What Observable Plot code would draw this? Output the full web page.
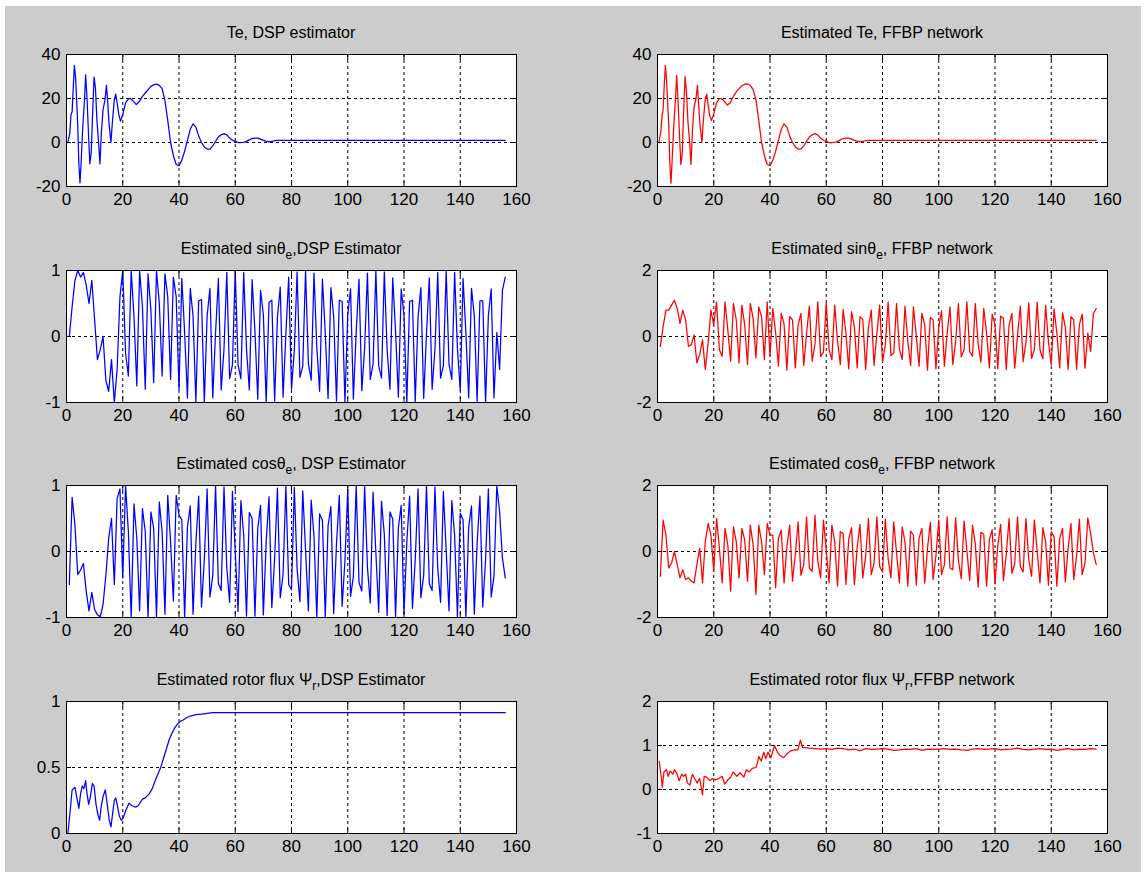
<!DOCTYPE html>
<html><head><meta charset="utf-8">
<script src="https://cdn.jsdelivr.net/npm/d3@7"></script>
<script src="https://cdn.jsdelivr.net/npm/@observablehq/plot@0.6"></script>
<style>
body{margin:0;background:#fff;}
#fig{position:relative;width:1146px;height:877px;background:#fff;overflow:hidden;font-family:"Liberation Sans",Arial,Helvetica,sans-serif;}
#bg{position:absolute;left:5px;top:6px;width:1136px;height:866px;background:#cccccc;}
.panel{position:absolute;}
.title{position:absolute;font-size:16px;line-height:20px;color:#000;white-space:nowrap;transform:translateX(-50%);}
.title sub{font-size:12px;vertical-align:-5px;line-height:0;}
</style></head>
<body><div id="fig"><div id="bg"></div></div>
<script>
// ---------- data ----------
const xTicks = [0,20,40,60,80,100,120,140,160];
const xGrid = [20,40,60,80,100,120,140];
const sampleT = d3.range(1, 157); // sample index 1..156

// Te, DSP estimator
const teX = [0.5,1.2,1.6,2,2.4,2.8,3.2,3.6,4,4.4,4.8,5.2,5.8,6.4,6.8,7.3,7.8,8.3,8.8,9.2,9.8,10.3,10.8,11.4,11.9,12.4,13,13.7,14.2,14.6,15.1,15.8,16.3,17,17.5,18,18.6,19.2,20,21,22,22.7,23.6,24.8,25.8,27,28,29,30,31,32,33,34,35,36,37,38,39,40,41,42,43,44,45,46,47,48,49,50,51,52,53,54,55,56,57,58,59,60,61,62,63,64,65,66,67,68,69,70,71,72,73,74,75,80,156];
const teDsp = [0,4.5,12.7,14,25,35,30,19.5,7.5,-10,-18.4,-9,7.5,19.5,30.7,20,4.5,-9.7,-4.5,10.5,29.7,24.7,10.5,0,-9.7,4.5,15,19.5,26,19.5,9,0,9,19.5,22,18,12.7,9.7,12.7,18,19.8,20,19,17.2,18.5,21,22.5,24,25.5,26.2,26.5,26,24.5,19,10,0,-6,-10,-10.5,-8,-4,1,6,8.5,7,3,0,-2,-3,-3,-1.5,0.5,2.5,3.5,4,3.5,2,1,0.5,0,0,0.1,0.5,1.2,1.8,2,2,1.5,1,0.6,0.3,0.5,0.8,1,1,1];
const teFfbp = [0,5,12,15,26,35,29,18,8,-10,-18.5,-8,8,20,30.5,19,4,-10,-5,11,30,23,10,0.5,-10,5,16,20,26,18,8,0,10,20,22,17,12,10,13,18,20,20,19,17,18,21,23,24.5,25.8,26.5,26.6,26,24,19.5,10,0,-6,-10,-10.5,-8,-4,1,6,8.5,7,3,0,-2,-3,-3,-1.5,0.5,2.5,3.5,4,3.5,2,1,0.5,0,0,0.1,0.5,1.2,1.8,2,2,1.5,1,0.6,0.3,0.5,0.8,1,1,1];

// sin theta_e
const sinDsp = [0.0,0.45,0.85,1.0,0.9,0.97,0.78,0.5,0.85,0.25,-0.35,-0.2,0.0,-0.67,-0.83,-0.35,-1.0,-0.5,
 0.6,1.0,-0.25,-0.6,1.0,0.3,-0.75,1.0,0.45,-0.8,0.95,0.4,-0.7,1.0,0.5,-0.6,0.95,0.6,-0.65,0.9,0.6,-0.81,
 0.88,0.06,-0.93,0.73,0.31,-0.99,0.54,0.56,-1.0,0.31,0.73,-0.93,0.06,0.88,-0.81,-0.19,0.97,-0.64,-0.43,1.0,-0.43,-0.64,0.97,-0.19,-0.81,
 0.86,0.08,-0.95,0.7,0.33,-1.0,0.52,0.55,-0.98,0.29,0.75,-0.92,0.04,0.9,-0.8,-0.21,0.98,-0.62,-0.45,1.0,-0.41,-0.66,0.96,-0.17,-0.83,
 0.87,0.05,-0.94,0.74,0.3,-0.98,0.55,0.53,-1.0,0.33,0.72,-0.95,0.07,0.87,-0.82,-0.18,0.96,-0.65,-0.42,1.0,-0.44,-0.63,0.98,-0.2,-0.8,
 0.89,0.07,-0.92,0.72,0.32,-1.0,0.53,0.55,-0.99,0.3,0.74,-0.94,0.05,0.89,-0.8,-0.2,0.97,-0.63,-0.44,1.0,-0.42,-0.65,0.97,-0.18,-0.82,
 0.88,0.06,-0.93,0.73,0.31,-0.99,0.54,0.54,-1.0,0.32,0.72,-0.93,0.06,-0.5,0.7,0.9];
const sinFfbp = [-0.3,0.3,0.8,0.8,0.95,1.1,0.85,0.4,0.8,0.5,-0.3,-0.25,0.05,-0.8,-0.55,-0.1,-1.0,-0.2,
 0.8,0.35,1.05,-0.4,-0.6,1.05,0.2,-0.75,1.0,0.5,-0.8,0.95,0.35,-0.85,1.0,0.55,-0.65,0.9,0.6,-0.7,1.05,-0.6,
 0.85,0.12,-0.9,0.7,0.38,-1.02,0.6,0.5,-0.95,0.35,0.7,-0.88,0.1,0.92,-0.75,-0.22,1.05,-0.6,-0.48,1.02,-0.4,-0.7,0.95,-0.12,-0.85,
 0.82,0.1,-0.98,0.75,0.3,-0.95,0.6,0.52,-1.0,0.28,0.8,-0.88,0.08,0.95,-0.78,-0.25,1.05,-0.58,-0.5,1.0,-0.38,-0.7,0.92,-0.15,-0.88,
 0.9,0.02,-0.9,0.7,0.35,-1.02,0.58,0.5,-0.98,0.3,0.78,-0.9,0.1,0.9,-0.85,-0.15,1.0,-0.62,-0.4,1.05,-0.45,-0.6,1.0,-0.22,-0.78,
 0.85,0.1,-0.95,0.68,0.36,-0.98,0.62,0.55,-1.0,0.34,0.7,-0.96,0.02,0.92,-0.76,-0.18,1.02,-0.66,-0.4,1.04,-0.4,-0.68,0.94,-0.16,-0.86,
 0.84,0.1,-0.95,0.72,0.28,-1.0,0.6,0.5,-1.0,0.36,0.68,-0.96,0.1,-0.45,0.7,0.85];

// cos theta_e
const cosDsp = [-0.5,0.82,0.4,-0.35,-0.28,-0.18,-0.6,-0.9,-0.62,-0.88,-0.96,-0.99,-0.8,-0.36,0.2,0.5,-0.5,0.8,
 0.95,-0.4,1.0,0.3,-1.0,0.72,0.2,-0.9,0.65,0.3,-1.0,0.6,0.35,-1.0,0.75,0.3,-0.95,0.85,0.15,-0.75,0.85,0.55,
 0.48,-1.0,0.37,0.69,-0.95,0.13,0.84,-0.84,-0.13,0.95,-0.69,-0.37,1.0,-0.48,-0.59,0.98,-0.25,-0.77,0.91,0,-0.91,0.77,0.25,-0.98,0.59,
 0.5,-0.98,0.35,0.7,-0.96,0.15,0.83,-0.85,-0.11,0.96,-0.7,-0.35,1.0,-0.5,-0.58,0.97,-0.27,-0.76,0.92,0.02,-0.9,0.78,0.23,-1.0,0.57,
 0.47,-1.0,0.39,0.68,-0.94,0.12,0.85,-0.83,-0.14,0.94,-0.68,-0.38,1.0,-0.47,-0.6,0.99,-0.24,-0.78,0.9,-0.02,-0.92,0.76,0.26,-0.97,0.6,
 0.49,-0.99,0.36,0.7,-0.95,0.14,0.84,-0.86,-0.12,0.95,-0.7,-0.36,1.0,-0.49,-0.59,0.98,-0.26,-0.77,0.91,0.01,-0.9,0.77,0.24,-0.99,0.58,
 0.48,-1.0,0.37,0.69,-0.95,0.13,0.84,-0.84,-0.13,0.95,-0.69,-0.37,1.0,0.6,-0.1,-0.4];
const cosFfbp = [-0.75,0.95,0.5,-0.5,-0.35,0.0,-0.4,-0.8,-0.55,-0.85,-0.8,-0.9,-0.95,-0.4,0.1,-0.95,0.3,0.85,0.5,-0.6,
 1.0,0.1,-0.95,0.7,0.2,-1.2,0.75,0.3,-0.8,0.7,0.35,-0.9,0.8,0.2,-1.3,0.8,0.3,-0.7,0.85,0.5,
 0.5,-1.1,0.4,0.65,-0.95,0.15,0.8,-0.9,-0.1,0.9,-0.72,-0.4,1.05,-0.5,-0.6,1.1,-0.3,-0.8,0.95,0.05,-0.95,0.8,0.3,-1.05,0.6,
 0.55,-1.0,0.38,0.72,-1.0,0.12,0.82,-0.8,-0.15,1.0,-0.7,-0.35,1.05,-0.45,-0.62,0.98,-0.22,-0.8,0.9,-0.05,-0.95,0.75,0.28,-1.05,0.62,
 0.5,-1.02,0.4,0.7,-0.96,0.1,0.88,-0.85,-0.12,0.95,-0.7,-0.4,1.05,-0.5,-0.55,1.02,-0.28,-0.82,0.92,0.02,-0.88,0.8,0.22,-1.08,0.58,
 0.52,-1.05,0.35,0.66,-0.98,0.18,0.82,-0.88,-0.1,1.0,-0.66,-0.38,1.05,-0.45,-0.62,1.0,-0.25,-0.75,0.95,0.0,-0.95,0.72,0.3,-1.02,0.6,
 0.45,-1.05,0.4,0.7,-0.92,0.1,0.85,-0.85,-0.15,0.98,-0.7,-0.35,1.02,0.55,-0.05,-0.4];

// rotor flux
const fluxDspX = [0.5,1.2,2,2.5,3,3.6,4.4,5,5.6,6.2,6.8,7.3,7.9,8.5,9.2,9.8,10.5,11.2,11.8,12.3,13,13.8,14.5,15.2,15.8,16.4,17,17.5,18.2,18.8,19.5,20.2,21,22.2,23.3,24.6,25.5,27,28,29.4,30.5,31.5,32.5,33.5,34.5,35.5,36.5,37.5,38.5,39.5,40.5,41.5,42.5,44,46,48,50,52,156];
const fluxDsp = [0,0.15,0.33,0.34,0.35,0.28,0.19,0.3,0.36,0.34,0.4,0.3,0.22,0.28,0.38,0.36,0.22,0.14,0.1,0.2,0.28,0.33,0.22,0.1,0.05,0.15,0.25,0.27,0.2,0.13,0.1,0.12,0.17,0.23,0.21,0.2,0.21,0.26,0.27,0.3,0.34,0.4,0.45,0.5,0.57,0.64,0.71,0.76,0.8,0.83,0.85,0.86,0.875,0.89,0.9,0.905,0.91,0.915,0.915];
const fluxFfbpX = [0.6,1.3,1.7,2.3,3.2,3.8,4.5,5.5,6,6.8,7.7,8.6,9.3,10,10.6,11.5,12.4,13.2,14.1,15,16,16.6,17.5,18.6,19.6,20.5,21.8,23,23.9,25,26,26.9,28.2,29.4,30.7,31.6,32.6,33.7,35,35.5,36,36.9,37.8,38.5,39.3,40.3,41.6,42.6,43.5,44.8,46.1,47.4,48.7,49.9,50.8,51.6,52.5,
 54,56,58,60,62,64,66,68,70,72,74,76,78,80,82,84,86,88,90,92,94,96,98,100,102,104,106,108,110,112,114,116,118,120,122,124,126,128,130,132,134,136,138,140,142,144,146,148,150,152,154,156];
const fluxFfbp = [0.64,0.3,0.05,0.4,0.45,0.3,0.42,0.35,0.45,0.38,0.2,0.35,0.3,0.35,0.15,0.1,0.35,0.25,0.15,0.25,-0.12,0.3,0.28,0.2,0.25,0.22,0.25,0.3,0.12,0.22,0.28,0.4,0.3,0.38,0.28,0.45,0.4,0.48,0.5,0.6,0.75,0.65,0.85,0.7,0.85,0.72,1.0,0.85,0.78,0.72,0.82,0.88,0.9,0.9,1.12,0.95,0.95,
 0.94,0.93,0.92,0.93,0.91,0.94,0.93,0.90,0.92,0.88,0.93,0.91,0.92,0.93,0.92,0.89,0.90,0.92,0.91,0.93,0.89,0.92,0.91,0.92,0.93,0.91,0.92,0.90,0.89,0.92,0.93,0.91,0.92,0.93,0.90,0.91,0.92,0.94,0.91,0.90,0.92,0.93,0.91,0.92,0.89,0.91,0.93,0.90,0.92,0.91,0.93,0.92];

const titles = [
  ["Te, DSP estimator", "Estimated Te, FFBP network"],
  ["Estimated sinθ<sub>e</sub>,DSP Estimator", "Estimated sinθ<sub>e</sub>, FFBP network"],
  ["Estimated cosθ<sub>e</sub>, DSP Estimator", "Estimated cosθ<sub>e</sub>, FFBP network"],
  ["Estimated rotor flux Ψ<sub>r</sub>,DSP Estimator", "Estimated rotor flux Ψ<sub>r</sub>,FFBP network"]
];

// ---------- layout ----------
const colLeft = [66, 657], rowTop = [54, 270, 485, 701];
const BW = 450, BH = 132, ML = 50, MR = 30, MT = 8, MB = 34;
const FONT = '"Liberation Sans", Arial, Helvetica, sans-serif';
const BLUE = "#0000ff", RED = "#ff0000";

const panels = [
  {col:0,row:0,x:teX,y:teDsp,color:BLUE,dom:[-20,40],ticks:[-20,0,20,40],grid:[0,20]},
  {col:1,row:0,x:teX,y:teFfbp,color:RED,dom:[-20,40],ticks:[-20,0,20,40],grid:[0,20]},
  {col:0,row:1,x:sampleT,y:sinDsp,color:BLUE,dom:[-1,1],ticks:[-1,0,1],grid:[0]},
  {col:1,row:1,x:sampleT,y:sinFfbp,color:RED,dom:[-2,2],ticks:[-2,0,2],grid:[0]},
  {col:0,row:2,x:sampleT,y:cosDsp,color:BLUE,dom:[-1,1],ticks:[-1,0,1],grid:[0]},
  {col:1,row:2,x:sampleT,y:cosFfbp,color:RED,dom:[-2,2],ticks:[-2,0,2],grid:[0]},
  {col:0,row:3,x:fluxDspX,y:fluxDsp,color:BLUE,dom:[0,1],ticks:[0,0.5,1],grid:[0.5]},
  {col:1,row:3,x:fluxFfbpX,y:fluxFfbp,color:RED,dom:[-1,2],ticks:[-1,0,1,2],grid:[0,1]}
];

const fig = document.getElementById("fig");
const fmt = d => String(d);
const blank = () => "";

for (const p of panels) {
  const data = p.x.map((xx, i) => ({x: xx, y: p.y[i]}));
  const svg = Plot.plot({
    width: BW + ML + MR, height: BH + MT + MB,
    marginLeft: ML, marginRight: MR, marginTop: MT, marginBottom: MB,
    style: {background: "transparent", fontFamily: FONT, fontSize: "17px", color: "#000", overflow: "visible"},
    x: {domain: [0, 160]},
    y: {domain: p.dom},
    marks: [
      Plot.frame({fill: "#ffffff", stroke: "none"}),
      Plot.ruleX(xGrid, {stroke: "#000", strokeWidth: 1, strokeDasharray: "3,3"}),
      Plot.ruleY(p.grid, {stroke: "#000", strokeWidth: 1, strokeDasharray: "3,3"}),
      Plot.line(data, {x: "x", y: "y", stroke: p.color, strokeWidth: 1.25, curve: "linear", clip: true}),
      Plot.frame({stroke: "#000", strokeWidth: 1}),
      Plot.axisX(xTicks, {anchor: "bottom", tickSize: 0, tickPadding: 6, tickFormat: fmt, label: null, fontSize: 17}),
      Plot.axisY(p.ticks, {anchor: "left", tickSize: 0, tickPadding: 6, tickFormat: fmt, label: null, fontSize: 17}),
      Plot.axisX(xTicks, {anchor: "bottom", tickSize: 5, dy: -5, tickFormat: blank, label: null}),
      Plot.axisX(xTicks, {anchor: "top", tickSize: 5, dy: 5, tickFormat: blank, label: null}),
      Plot.axisY(p.ticks, {anchor: "left", tickSize: 5, dx: 5, tickFormat: blank, label: null}),
      Plot.axisY(p.ticks, {anchor: "right", tickSize: 5, dx: -5, tickFormat: blank, label: null})
    ]
  });
  svg.classList.add("panel");
  svg.style.left = (colLeft[p.col] - ML) + "px";
  svg.style.top = (rowTop[p.row] - MT) + "px";
  fig.appendChild(svg);

  const t = document.createElement("div");
  t.className = "title";
  t.innerHTML = titles[p.row][p.col];
  t.style.left = (colLeft[p.col] + BW / 2) + "px";
  t.style.top = (rowTop[p.row] - 31) + "px";
  fig.appendChild(t);
}
</script>
</body></html>
